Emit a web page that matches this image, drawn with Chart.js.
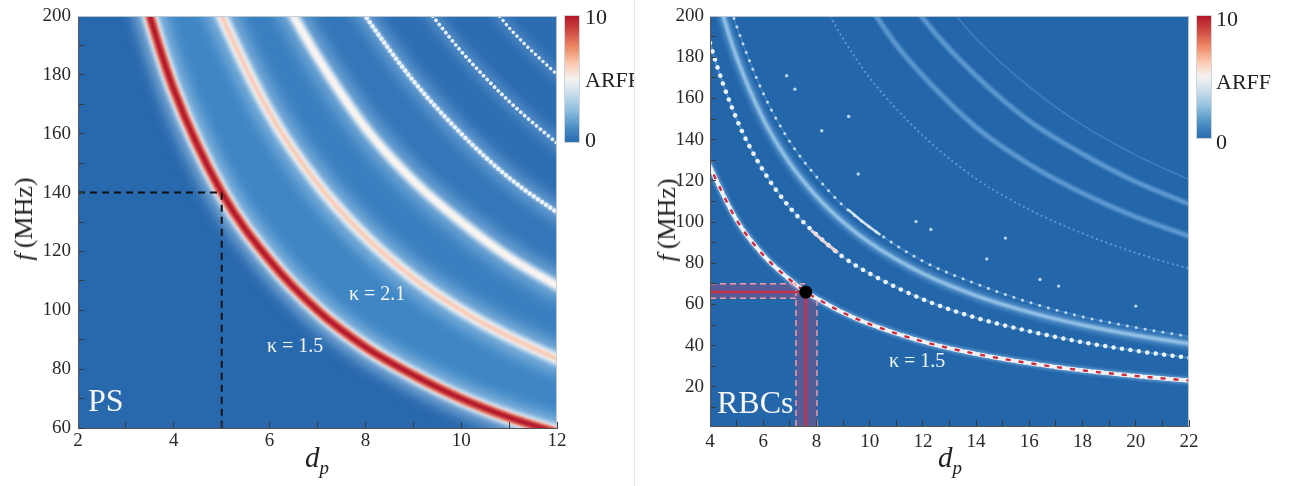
<!DOCTYPE html>
<html><head><meta charset="utf-8">
<script src="https://cdn.jsdelivr.net/npm/chart.js@4.4.0/dist/chart.umd.min.js"></script>
<style>
body{margin:0;background:#fff;}
#wrap{position:relative;width:1290px;height:486px;overflow:hidden;background:#fff;font-family:'Liberation Serif','Times New Roman',serif;color:#222;}
.panel{position:absolute;top:0;height:486px;overflow:hidden;}
.t{position:absolute;line-height:1;white-space:nowrap;}
.rot{transform:translate(-50%,-50%) rotate(-90deg);}
.cb{position:absolute;background:linear-gradient(to bottom,#b2182b 0%,#cf4a42 12%,#ee8a66 25%,#fbcab0 38%,#f5f3f1 50%,#c8ddec 62%,#8dbddc 75%,#4c90c6 88%,#2b6bb0 100%);box-shadow:0 0 0 1px rgba(150,160,175,0.45);}
.w{color:#f4f6f8;}
#sep{position:absolute;left:634px;top:0;width:1px;height:486px;background:#e4e4e4;}
</style></head>
<body>
<div id="wrap">
  <div class="panel" style="left:0;width:634px;">
    <canvas id="c1" width="640" height="486"></canvas>
    <div class="cb" style="left:565px;top:16px;width:14px;height:126px;"></div>
    <div class="t" style="left:585px;top:6px;font-size:22px;">10</div>
    <div class="t" style="left:585px;top:69px;font-size:22px;">ARFF</div>
    <div class="t" style="left:585px;top:129px;font-size:22px;">0</div>
    <div class="t rot" style="left:24px;top:219px;font-size:26px;"><i>f</i>&#8201;(MHz)</div>
    <div class="t" style="left:317px;top:443px;transform:translateX(-50%);font-size:29px;"><i>d</i><i style="font-size:19px;position:relative;top:7px;">p</i></div>
    <div class="t w" style="left:88px;top:384px;font-size:32px;">PS</div>
    <div class="t w" style="left:267px;top:335px;font-size:20px;">κ = 1.5</div>
    <div class="t w" style="left:349px;top:283px;font-size:20px;">κ = 2.1</div>
  </div>
  <div id="sep"></div>
  <div class="panel" style="left:640px;width:650px;">
    <canvas id="c2" width="650" height="486"></canvas>
  </div>
  <div class="cb" style="left:1197px;top:16px;width:14px;height:122px;"></div>
  <div class="t" style="left:1216px;top:8px;font-size:22px;">10</div>
  <div class="t" style="left:1216px;top:71px;font-size:22px;">ARFF</div>
  <div class="t" style="left:1216px;top:131px;font-size:22px;">0</div>
  <div class="t rot" style="left:667px;top:220px;font-size:26px;"><i>f</i>&#8201;(MHz)</div>
  <div class="t" style="left:950px;top:443px;transform:translateX(-50%);font-size:29px;"><i>d</i><i style="font-size:19px;position:relative;top:7px;">p</i></div>
  <div class="t w" style="left:717px;top:386px;font-size:32px;">RBCs</div>
  <div class="t w" style="left:889px;top:350px;font-size:20px;">κ = 1.5</div>
</div>
<script>
// ===== PS panel (left) =====
const psXTicks = [2, 3, 4, 5, 6, 7, 8, 9, 10, 11, 12];
const psXLabels = [2, 4, 6, 8, 10, 12];
const psYTicks = [60, 70, 80, 90, 100, 110, 120, 130, 140, 150, 160, 170, 180, 190, 200];
const psYLabels = [60, 80, 100, 120, 140, 160, 180, 200];

// resonance ridges (d_p, f in MHz)
const psD1 = [3.3, 3.5, 4, 5, 6, 7, 8, 9, 10, 11, 12.2];
const psF1 = [212, 200, 175, 140, 117, 100, 87.5, 78, 70, 63.6, 57.4];
const psD2 = [4.8, 5, 6, 7, 8, 9, 10, 11, 12.2];
const psF2 = [208, 200, 167, 143, 125, 111, 100, 91, 82];
const psD3 = [6.3, 6.5, 7, 8, 9, 10, 11, 12.2];
const psF3 = [206, 200, 186, 162, 144, 130, 118, 106.5];
const psD4 = [7.8, 8, 9, 10, 11, 12.2];
const psF4 = [205, 200, 178, 160, 145, 131];
const psD5 = [9.2, 9.4, 10, 11, 12.2];
const psF5 = [204, 200, 188, 171, 154];
const psD6 = [10.6, 10.8, 11, 12.2];
const psF6 = [204, 200, 196, 177];
const psGuideD = [2, 5, 5];
const psGuideF = [140, 140, 60];

// ===== RBCs panel (right) =====
const rbXTicks = [4, 5, 6, 7, 8, 9, 10, 11, 12, 13, 14, 15, 16, 17, 18, 19, 20, 21, 22];
const rbXLabels = [4, 6, 8, 10, 12, 14, 16, 18, 20, 22];
const rbYTicks = [10, 20, 30, 40, 50, 60, 70, 80, 90, 100, 110, 120, 130, 140, 150, 160, 170, 180, 190, 200];
const rbYLabels = [20, 40, 60, 80, 100, 120, 140, 160, 180, 200];

const rbD1 = [3.9, 4, 5, 6, 7, 7.6, 8, 9, 10, 12, 14, 16, 18, 20, 22.2];
const rbF1 = [130, 127, 101, 84, 72, 66, 63, 56, 50.5, 42, 36, 31.5, 28, 25.3, 22.8];
const rbD2 = [3.7, 4, 5, 6, 7, 8, 9, 10, 12, 14, 16, 18, 20, 22.2];
const rbF2 = [203, 187, 150, 125, 107, 94, 83, 75, 62.5, 53.5, 47, 41.7, 37.5, 33.8];
const rbD3 = [4.4, 4.5, 5, 6, 7, 8, 9, 10, 12, 14, 16, 18, 20, 22.2];
const rbF3 = [205, 200, 180, 150, 128.5, 112.5, 100, 90, 75, 64.3, 56.3, 50, 45, 40.5];
const rbD4 = [4.8, 5, 6, 7, 8, 9, 10, 12, 14, 16, 18, 20, 22.2];
const rbF4 = [203, 195, 162.5, 139, 122, 108, 97.5, 81, 70, 61, 54, 48.8, 44];
const rbD5 = [8.4, 8.5, 9, 10, 12, 14, 16, 18, 20, 22.2];
const rbF5 = [202, 200, 189, 170, 142, 121, 106, 94.5, 85, 76.6];
const rbD6 = [10.1, 10.25, 11, 12, 14, 16, 18, 20, 22.2];
const rbF6 = [203, 200, 186, 171, 146, 128, 114, 102.5, 92.3];
const rbD7 = [11.8, 11.95, 12, 14, 16, 18, 20, 22.2];
const rbF7 = [203, 200, 199, 171, 149, 133, 119.5, 107.7];
const rbD8 = [13.1, 13.25, 14, 16, 18, 20, 22.2];
const rbF8 = [202, 200, 189, 165.6, 147, 132.5, 119.4];
const rbSegAD = [7.8, 8.2, 8.8];
const rbSegAF = [96, 91.5, 85.2];
const rbSegBD = [9.2, 9.8, 10.4];
const rbSegBF = [106, 99.5, 93.8];
const rbSpotD = [6.88, 7.19, 8.2, 9.21, 9.57, 11.74, 12.3, 14.4, 15.1, 16.4, 17.1, 20.0];
const rbSpotF = [171, 164.5, 144.3, 151.2, 123.3, 100.2, 96.4, 82.1, 92.2, 72.1, 68.9, 59.2];
const rbPickD = [7.6];
const rbPickF = [66];
const rbVLineD = [7.6, 7.6], rbVLineF = [1, 66];
const rbHLineD = [4, 7.6], rbHLineF = [66, 66];
const rbDashTopD = [4, 7.57], rbDashTopF = [70, 70];
const rbDashLowD = [4, 7.23], rbDashLowF = [63, 63];
const rbDashLeftD = [7.23, 7.23], rbDashLeftF = [1, 70];
const rbDashRightD = [8.02, 8.02], rbDashRightF = [1, 62];
const rbShadeHD = [4, 7.23], rbShadeHF = [70, 70];
const rbShadeVD = [7.23, 7.6, 8.02], rbShadeVF = [70, 66, 62];

// ===== helpers =====
function mk(xs, ys) { return xs.map((x, i) => ({x: x, y: ys[i]})); }
function curve(xs, ys, o) {
  return Object.assign({
    data: mk(xs, ys), borderColor: '#ffffff', borderWidth: 2, backgroundColor: 'transparent',
    pointRadius: 0, pointHoverRadius: 0, fill: false, cubicInterpolationMode: 'monotone',
    clip: 0, blur: 0
  }, o);
}
function straight(xs, ys, o) {
  return curve(xs, ys, Object.assign({cubicInterpolationMode: 'default', tension: 0}, o));
}
function ordered(list) { const n = list.length; list.forEach((d, i) => { d.order = n - i; }); return list; }

const softPlugin = {
  id: 'soft',
  beforeDraw(chart, args, opts) {
    const ctx = chart.ctx, a = chart.chartArea;
    ctx.save();
    ctx.fillStyle = opts.bg;
    ctx.fillRect(a.left, a.top, a.right - a.left, a.bottom - a.top);
    ctx.restore();
    ctx.filter = opts.fillBlur ? 'blur(' + opts.fillBlur + 'px)' : 'none';
  },
  beforeDatasetsDraw(chart) { chart.ctx.filter = 'none'; },
  beforeDatasetDraw(chart, args) {
    const ds = chart.data.datasets[args.index];
    chart.ctx.filter = ds.blur ? 'blur(' + ds.blur + 'px)' : 'none';
  },
  afterDatasetDraw(chart) { chart.ctx.filter = 'none'; },
  afterDatasetsDraw(chart) { chart.ctx.filter = 'none'; },
  afterDraw(chart, args, opts) {
    const ctx = chart.ctx, a = chart.chartArea;
    ctx.save();
    ctx.filter = 'none';
    ctx.strokeStyle = opts.frame; ctx.lineWidth = 1;
    ctx.beginPath();
    ctx.moveTo(a.left, a.top + 0.5); ctx.lineTo(a.right - 0.5, a.top + 0.5); ctx.lineTo(a.right - 0.5, a.bottom);
    ctx.stroke();
    ctx.restore();
  }
};

const tickFont = {family: "'Liberation Serif', 'Times New Roman', serif", size: 19};
function axes(xTicks, xLabels, xMin, xMax, xH, yTicks, yLabels, yMin, yMax, yW, xPad, yPad) {
  return {
    x: {
      type: 'linear', min: xMin, max: xMax,
      afterBuildTicks: s => { s.ticks = xTicks.map(v => ({value: v})); },
      afterFit: s => { s.height = xH; s.paddingLeft = 0; s.paddingRight = 0; s.paddingTop = 0; s.paddingBottom = 0; },
      ticks: {z: 1, autoSkip: false, maxRotation: 0, minRotation: 0, padding: xPad, color: '#2a2a2a', font: tickFont,
        callback: v => xLabels.includes(v) ? String(v) : ''},
      grid: {z: 1, drawOnChartArea: false, drawTicks: true, tickLength: -6, tickColor: '#3a3a3a', tickWidth: 1},
      border: {z: 1, display: true, color: '#555', width: 1}
    },
    y: {
      type: 'linear', min: yMin, max: yMax,
      afterBuildTicks: s => { s.ticks = yTicks.map(v => ({value: v})); },
      afterFit: s => { s.width = yW; s.paddingTop = 0; s.paddingBottom = 0; s.paddingLeft = 0; s.paddingRight = 0; },
      ticks: {z: 1, autoSkip: false, padding: yPad, color: '#2a2a2a', font: tickFont,
        callback: v => yLabels.includes(v) ? String(v) : ''},
      grid: {z: 1, drawOnChartArea: false, drawTicks: true, tickLength: -6, tickColor: '#3a3a3a', tickWidth: 1},
      border: {z: 1, display: true, color: '#555', width: 1}
    }
  };
}

// ===== left chart =====
const beads = {borderCapStyle: 'round', borderColor: 'rgba(238,246,252,0.95)'};
const leftSets = ordered([
  curve(psD1, psF1, {borderWidth: 0, borderColor: 'transparent', fill: {value: 330}, backgroundColor: '#3e86c4'}),
  curve(psD2, psF2, {borderWidth: 0, borderColor: 'transparent', fill: {value: 330}, backgroundColor: '#3a80c0'}),
  curve(psD3, psF3, {borderWidth: 0, borderColor: 'transparent', fill: {value: 330}, backgroundColor: '#3377b9'}),
  curve(psD4, psF4, {borderWidth: 0, borderColor: 'transparent', fill: {value: 330}, backgroundColor: '#2e6fb3'}),
  curve(psD5, psF5, {borderWidth: 0, borderColor: 'transparent', fill: {value: 330}, backgroundColor: '#2c6cb1'}),
  curve(psD6, psF6, {borderWidth: 12, borderColor: 'rgba(140,190,228,0.30)', blur: 4}),
  curve(psD5, psF5, {borderWidth: 14, borderColor: 'rgba(145,192,230,0.35)', blur: 5}),
  curve(psD4, psF4, {borderWidth: 20, borderColor: 'rgba(150,196,232,0.45)', blur: 6}),
  curve(psD3, psF3, {borderWidth: 28, borderColor: 'rgba(160,200,234,0.55)', blur: 7}),
  curve(psD2, psF2, {borderWidth: 30, borderColor: 'rgba(165,203,235,0.62)', blur: 7}),
  curve(psD1, psF1, {borderWidth: 30, borderColor: 'rgba(170,206,236,0.70)', blur: 7}),
  curve(psD6, psF6, Object.assign({borderWidth: 3.4, borderDash: [0.01, 5.2], blur: 0.5}, beads)),
  curve(psD5, psF5, Object.assign({borderWidth: 3.8, borderDash: [0.01, 5.2], blur: 0.5}, beads)),
  curve(psD4, psF4, {borderWidth: 5, borderColor: 'rgba(205,228,245,0.55)', blur: 1.5}),
  curve(psD4, psF4, Object.assign({borderWidth: 4.4, borderDash: [0.01, 5], blur: 0.5}, beads)),
  curve(psD3, psF3, {borderWidth: 10, borderColor: '#eef3f7', blur: 2}),
  curve(psD3, psF3, {borderWidth: 4, borderColor: '#fbf3ee', blur: 1}),
  curve(psD2, psF2, {borderWidth: 12, borderColor: '#f1f4f7', blur: 2}),
  curve(psD2, psF2, {borderWidth: 5, borderColor: '#f7cdb9', blur: 1.2}),
  curve(psD1, psF1, {borderWidth: 15, borderColor: '#f2f4f6', blur: 2}),
  curve(psD1, psF1, {borderWidth: 10, borderColor: '#e5735f', blur: 1.3}),
  curve(psD1, psF1, {borderWidth: 5, borderColor: '#b2182b', blur: 1}),
  straight(psGuideD, psGuideF, {borderWidth: 2, borderColor: '#111', borderDash: [7, 5], borderJoinStyle: 'miter'})
]);

new Chart(document.getElementById('c1'), {
  type: 'line',
  data: {datasets: leftSets},
  options: {
    responsive: false, animation: false, events: [], devicePixelRatio: 1,
    layout: {padding: {left: 0, right: 83, top: 16, bottom: 0}},
    plugins: {legend: {display: false}, tooltip: {enabled: false}, title: {display: false},
      filler: {drawTime: 'beforeDatasetsDraw'},
      soft: {bg: '#2868ad', fillBlur: 5, frame: 'rgba(200,205,212,0.9)'}},
    scales: axes(psXTicks, psXLabels, 2, 12, 58, psYTicks, psYLabels, 60, 200, 78, 8, 13)
  },
  plugins: [softPlugin]
});

// ===== right chart =====
const rightSets = ordered([
  straight(rbShadeHD, rbShadeHF, {borderWidth: 0, borderColor: 'transparent', fill: {value: 63}, backgroundColor: 'rgba(205,70,110,0.30)'}),
  straight(rbShadeVD, rbShadeVF, {borderWidth: 0, borderColor: 'transparent', fill: 'start', backgroundColor: 'rgba(205,70,110,0.30)'}),
  curve(rbD8, rbF8, {borderWidth: 1.5, borderColor: 'rgba(120,175,222,0.35)', blur: 0.6}),
  curve(rbD7, rbF7, {borderWidth: 5, borderColor: 'rgba(112,170,220,0.75)', blur: 1}),
  curve(rbD6, rbF6, {borderWidth: 5, borderColor: 'rgba(112,170,220,0.75)', blur: 1}),
  curve(rbD5, rbF5, {borderWidth: 1.8, borderColor: 'rgba(140,192,232,0.6)', borderDash: [2, 3], blur: 0.3}),
  curve(rbD4, rbF4, {borderWidth: 1.5, borderColor: 'rgba(100,160,215,0.45)', blur: 0.5}),
  curve(rbD4, rbF4, {borderWidth: 3, borderColor: 'rgba(205,228,246,0.9)', borderDash: [0.01, 9], borderCapStyle: 'round', blur: 0.3}),
  curve(rbSegBD, rbSegBF, {borderWidth: 2.5, borderColor: 'rgba(225,238,248,0.9)', blur: 0.5}),
  curve(rbD3, rbF3, {borderWidth: 10, borderColor: 'rgba(105,165,218,0.6)', blur: 2}),
  curve(rbD3, rbF3, {borderWidth: 3.5, borderColor: 'rgba(170,210,238,0.85)', blur: 1}),
  curve(rbD2, rbF2, {borderWidth: 2, borderColor: 'rgba(110,170,222,0.5)', blur: 0.5}),
  curve(rbD2, rbF2, {borderWidth: 4.5, borderColor: 'rgba(242,248,253,0.97)', borderDash: [0.01, 8.5], borderCapStyle: 'round', blur: 0.3}),
  curve(rbSegAD, rbSegAF, {borderWidth: 3, borderColor: 'rgba(240,215,220,0.95)', blur: 0.5}),
  curve(rbD1, rbF1, {borderWidth: 7, borderColor: 'rgba(150,200,238,0.55)', blur: 1.5}),
  curve(rbD1, rbF1, {borderWidth: 4.2, borderColor: 'rgba(246,246,248,0.97)', borderDash: [10, 3], borderCapStyle: 'round', blur: 0.3}),
  curve(rbD1, rbF1, {borderWidth: 2.4, borderColor: '#cf2a3c', borderDash: [5, 8], borderDashOffset: -2.5, blur: 0.2}),
  curve(rbSpotD, rbSpotF, {showLine: false, pointRadius: 1.7, pointBackgroundColor: 'rgba(200,226,246,0.9)', pointBorderWidth: 0, blur: 0.3}),
  straight(rbDashTopD, rbDashTopF, {borderWidth: 1.5, borderColor: '#f09aa6', borderDash: [6, 4]}),
  straight(rbDashLowD, rbDashLowF, {borderWidth: 1.5, borderColor: '#f09aa6', borderDash: [6, 4]}),
  straight(rbDashLeftD, rbDashLeftF, {borderWidth: 1.5, borderColor: '#f09aa6', borderDash: [6, 4]}),
  straight(rbDashRightD, rbDashRightF, {borderWidth: 1.5, borderColor: '#f09aa6', borderDash: [6, 4]}),
  straight(rbVLineD, rbVLineF, {borderWidth: 2.5, borderColor: '#c9304a'}),
  straight(rbHLineD, rbHLineF, {borderWidth: 2.5, borderColor: '#c9304a'}),
  curve(rbPickD, rbPickF, {showLine: false, pointRadius: 6.5, pointBackgroundColor: '#000', pointBorderWidth: 0})
]);

new Chart(document.getElementById('c2'), {
  type: 'line',
  data: {datasets: rightSets},
  options: {
    responsive: false, animation: false, events: [], devicePixelRatio: 1,
    layout: {padding: {left: 0, right: 101, top: 16, bottom: 0}},
    plugins: {legend: {display: false}, tooltip: {enabled: false}, title: {display: false},
      filler: {drawTime: 'beforeDatasetsDraw'},
      soft: {bg: '#2366aa', fillBlur: 0, frame: 'rgba(200,205,212,0.9)'}},
    scales: axes(rbXTicks, rbXLabels, 4, 22, 60, rbYTicks, rbYLabels, 1, 200, 70, 11, 12)
  },
  plugins: [softPlugin]
});
</script>
</body></html>
